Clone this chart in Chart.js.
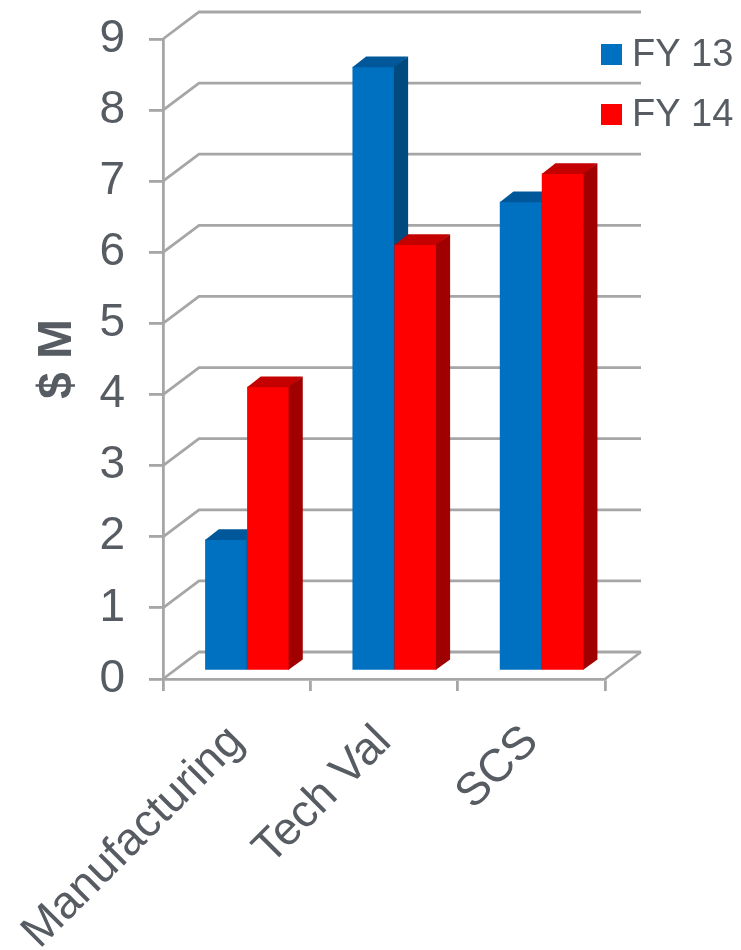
<!DOCTYPE html>
<html>
<head>
<meta charset="utf-8">
<title>$ M by area, FY 13 vs FY 14</title>
<script src="https://cdn.jsdelivr.net/npm/chart.js@4/dist/chart.umd.min.js"></script>
<style>
  html, body { margin: 0; padding: 0; background: #ffffff; }
  canvas { display: block; }
</style>
</head>
<body>
<canvas id="chart" width="741" height="950"></canvas>
<script>
// ---- data ----
const categories = ['Manufacturing', 'Tech Val', 'SCS'];
const seriesNames = ['FY 13', 'FY 14'];
const fy13Values = [1.85, 8.5, 6.6];
const fy14Values = [4.0, 6.0, 7.0];
const yTickLabels = ['0', '1', '2', '3', '4', '5', '6', '7', '8', '9'];
const yAxisTitle = '$ M';

// ---- styling ----
const FONT = '"Liberation Sans", Arial, Helvetica, sans-serif';
const TEXT = '#575c63';
const GRID = '#a6a6a6';
const faceColors = [
  { front: '#0070c0', top: '#00589a', side: '#004a80' },
  { front: '#ff0000', top: '#c40000', side: '#a00000' }
];
// receding direction of the 3D box (back wall offset from the front plane)
const DEPTH = { dx: 36, dy: -27 };
const BAR_FRONT = 0.29;   // bars stand this far back from the front plane
const BAR_DEPTH = 0.38;   // thickness of each bar along the depth axis

function fillPoly(ctx, pts) {
  ctx.beginPath();
  ctx.moveTo(pts[0][0], pts[0][1]);
  for (let i = 1; i < pts.length; i++) ctx.lineTo(pts[i][0], pts[i][1]);
  ctx.closePath();
  ctx.fill();
}

// Back wall, side wall and floor lines of the 3D box, then the bars as prisms.
const boxPlugin = {
  id: 'box3d',
  beforeDatasetsDraw(chart) {
    const { ctx, chartArea, scales: { y } } = chart;
    ctx.save();
    ctx.strokeStyle = GRID;
    ctx.lineWidth = 2.8;
    y.ticks.forEach(t => {
      const py = y.getPixelForValue(t.value);
      ctx.beginPath();
      ctx.moveTo(chartArea.left, py);
      ctx.lineTo(chartArea.left + DEPTH.dx, py + DEPTH.dy);
      ctx.lineTo(chartArea.right + DEPTH.dx, py + DEPTH.dy);
      ctx.stroke();
    });
    const p0 = y.getPixelForValue(0);
    ctx.beginPath();
    ctx.moveTo(chartArea.right, p0);
    ctx.lineTo(chartArea.right + DEPTH.dx, p0 + DEPTH.dy);
    ctx.stroke();
    ctx.restore();
  },
  beforeDatasetDraw() {
    return false; // bars are painted below, series by series, with their faces
  },
  afterDatasetsDraw(chart) {
    const ctx = chart.ctx;
    const ox = DEPTH.dx * BAR_DEPTH, oy = DEPTH.dy * BAR_DEPTH;
    ctx.save();
    ctx.translate(DEPTH.dx * BAR_FRONT, DEPTH.dy * BAR_FRONT);
    chart.data.datasets.forEach((ds, i) => {
      const meta = chart.getDatasetMeta(i);
      const shade = faceColors[i];
      meta.data.forEach(bar => {
        bar.draw(ctx);
        const { x, y, base, width } = bar.getProps(['x', 'y', 'base', 'width'], true);
        const l = x - width / 2, r = x + width / 2;
        ctx.fillStyle = shade.top;
        fillPoly(ctx, [[l, y + 0.5], [r, y + 0.5], [r + ox, y + oy], [l + ox, y + oy]]);
        ctx.fillStyle = shade.side;
        fillPoly(ctx, [[r - 0.5, y], [r + ox, y + oy], [r + ox, base + oy], [r - 0.5, base]]);
      });
    });
    ctx.restore();
  }
};

// Two-row legend in the upper right corner.
const cornerLegend = {
  id: 'cornerLegend',
  afterDraw(chart, args, opts) {
    const ctx = chart.ctx;
    ctx.save();
    ctx.font = `${opts.fontSize}px ${FONT}`;
    ctx.textBaseline = 'alphabetic';
    ctx.textAlign = 'left';
    chart.data.datasets.forEach((ds, i) => {
      const top = opts.top + i * opts.rowGap;
      ctx.fillStyle = ds.backgroundColor;
      ctx.fillRect(opts.left, top, opts.box, opts.box);
      ctx.fillStyle = TEXT;
      ctx.fillText(ds.label, opts.left + opts.box + opts.gap, top + opts.baseline);
    });
    ctx.restore();
  }
};

const chart = new Chart(document.getElementById('chart'), {
  type: 'bar',
  data: {
    labels: categories,
    datasets: [
      { label: seriesNames[0], data: fy13Values, backgroundColor: faceColors[0].front, borderWidth: 0 },
      { label: seriesNames[1], data: fy14Values, backgroundColor: faceColors[1].front, borderWidth: 0 }
    ]
  },
  options: {
    responsive: false,
    animation: false,
    devicePixelRatio: 1,
    categoryPercentage: 0.57,
    barPercentage: 1.0,
    layout: { padding: { top: 39, right: 136, bottom: 0, left: 0 } },
    plugins: {
      legend: { display: false },
      tooltip: { enabled: false },
      cornerLegend: { left: 601, top: 44, rowGap: 60, box: 21, gap: 10, baseline: 22, fontSize: 38 }
    },
    scales: {
      x: {
        grid: { drawOnChartArea: false, drawTicks: true, tickLength: 12, color: GRID, lineWidth: 2.8, offset: true },
        border: { display: true, color: GRID, width: 2.8 },
        ticks: {
          font: { size: 46, family: FONT },
          color: TEXT,
          minRotation: 45,
          maxRotation: 45,
          autoSkip: false,
          padding: 24
        },
        afterFit(s) { s.height = 271; s.paddingLeft = 0; s.paddingRight = 0; }
      },
      y: {
        min: 0,
        max: 9,
        ticks: {
          stepSize: 1,
          font: { size: 46, family: FONT },
          color: TEXT,
          padding: 24,
          callback: (v) => yTickLabels[v]
        },
        grid: { drawOnChartArea: false, drawTicks: true, tickLength: 14, color: GRID, lineWidth: 2.8 },
        border: { display: true, color: GRID, width: 2.8 },
        title: {
          display: true,
          text: yAxisTitle,
          color: TEXT,
          font: { size: 48, weight: 'bold', family: FONT },
          padding: { top: 29, bottom: 0 }
        },
        afterFit(s) { s.width = 163; s.paddingTop = 0; s.paddingBottom = 0; }
      }
    }
  },
  plugins: [boxPlugin, cornerLegend]
});
</script>
</body>
</html>
